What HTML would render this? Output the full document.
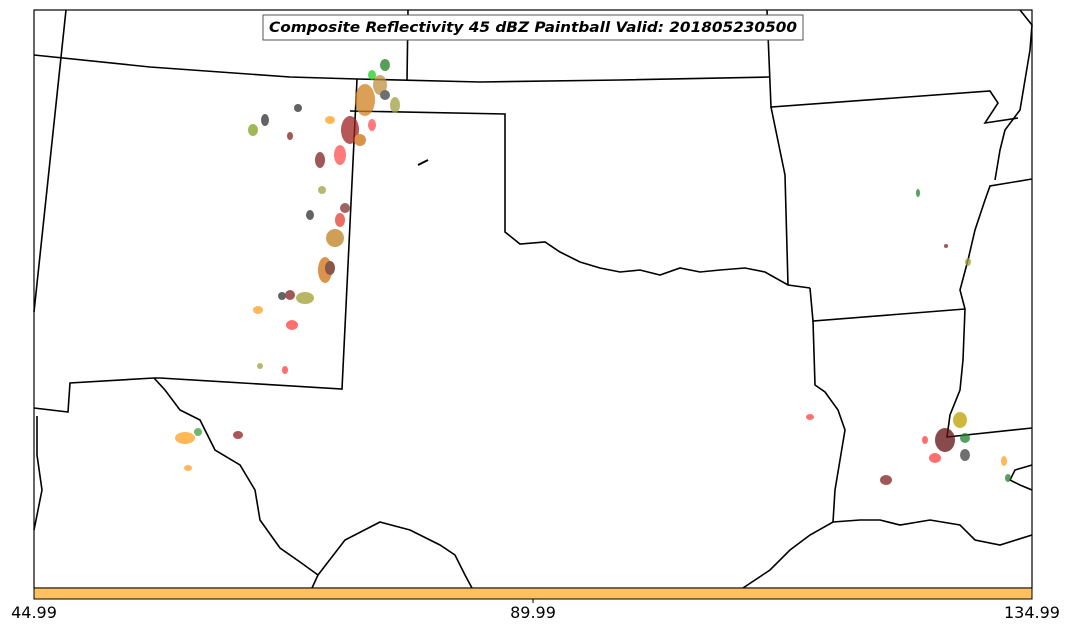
<!DOCTYPE html>
<html><head><meta charset="utf-8"><style>
html,body{margin:0;padding:0;background:#fff;width:1070px;height:633px;overflow:hidden;font-family:"DejaVu Sans",sans-serif}
</style></head><body>
<svg width="1070" height="633" style="position:absolute;left:0;top:0">
<g fill="none" stroke="#000" stroke-width="1.6">
<path d="M66,10 L34,312"/>
<path d="M34,55 L150,67 L290,77 L357,79 L480,82 L620,80 L770,77"/>
<path d="M408,10 L407,81"/>
<path d="M767,10 L771,107 L990,91 L998,103 L985,123 L1018,118"/>
<path d="M357,79 L342,389 L160,378 L154,378"/>
<path d="M350,111 L505,114 L505,232 L520,244 L545,242 L560,252 L580,262 L600,268 L620,272 L640,270 L660,275 L680,268 L700,272 L720,270 L745,268 L765,272 L788,285 L810,288"/>
<path d="M771,107 L785,175 L788,285"/>
<path d="M810,288 L813,321 L965,309"/>
<path d="M813,321 L815,385 L825,392 L838,410 L845,430 L840,460 L835,490 L833,522"/>
<path d="M1032,179 L990,186 L985,200 L975,230 L968,260 L960,290 L965,309 L963,360 L960,390 L950,415 L947,437 L1032,428"/>
<path d="M1020,10 L1032,25 L1030,50 L1025,80 L1020,110 L1005,130 L1000,150 L995,180"/>
<path d="M154,378 L165,390 L180,410 L200,420 L215,450 L240,465 L255,490 L260,520 L280,548 L300,562 L318,575 L312,588"/>
<path d="M318,575 L345,540 L380,522 L410,530 L440,545 L455,555 L465,575 L472,588"/>
<path d="M743,588 L770,570 L790,550 L810,535 L833,522 L860,520 L880,520 L900,525 L930,520 L960,525 L975,540 L1000,545 L1032,535"/>
<path d="M34,408 L68,412 L70,383 L154,378"/>
<path d="M37,416 L37,455 L42,490 L34,530"/>
<path d="M1032,465 L1015,470 L1010,480 L1020,485 L1032,490"/>
<path d="M418,165 L428,160" stroke-width="2"/>
</g>
<g opacity="0.75">
<ellipse cx="365" cy="100" rx="10" ry="16" fill="#d08020"/>
<ellipse cx="350" cy="130" rx="9" ry="14" fill="#a02020"/>
<ellipse cx="340" cy="155" rx="6" ry="10" fill="#ff5050"/>
<ellipse cx="380" cy="85" rx="7" ry="10" fill="#c09040"/>
<ellipse cx="395" cy="105" rx="5" ry="8" fill="#a0a040"/>
<ellipse cx="385" cy="65" rx="5" ry="6" fill="#208020"/>
<ellipse cx="372" cy="75" rx="4" ry="5" fill="#20d020"/>
<ellipse cx="360" cy="140" rx="6" ry="6" fill="#d07010"/>
<ellipse cx="330" cy="120" rx="5" ry="4" fill="#ffa020"/>
<ellipse cx="372" cy="125" rx="4" ry="6" fill="#ff5050"/>
<ellipse cx="385" cy="95" rx="5" ry="5" fill="#404040"/>
<ellipse cx="335" cy="238" rx="9" ry="9" fill="#c08020"/>
<ellipse cx="340" cy="220" rx="5" ry="7" fill="#e04030"/>
<ellipse cx="345" cy="208" rx="5" ry="5" fill="#803030"/>
<ellipse cx="325" cy="270" rx="7" ry="13" fill="#d07010"/>
<ellipse cx="330" cy="268" rx="5" ry="7" fill="#602010"/>
<ellipse cx="305" cy="298" rx="9" ry="6" fill="#a0a030"/>
<ellipse cx="290" cy="295" rx="5" ry="5" fill="#802020"/>
<ellipse cx="282" cy="296" rx="4" ry="4" fill="#303030"/>
<ellipse cx="292" cy="325" rx="6" ry="5" fill="#ff4040"/>
<ellipse cx="320" cy="160" rx="5" ry="8" fill="#802020"/>
<ellipse cx="322" cy="190" rx="4" ry="4" fill="#a0a040"/>
<ellipse cx="310" cy="215" rx="4" ry="5" fill="#303030"/>
<ellipse cx="298" cy="108" rx="4" ry="4" fill="#303030"/>
<ellipse cx="290" cy="136" rx="3" ry="4" fill="#802020"/>
<ellipse cx="265" cy="120" rx="4" ry="6" fill="#303030"/>
<ellipse cx="253" cy="130" rx="5" ry="6" fill="#80a020"/>
<ellipse cx="258" cy="310" rx="5" ry="4" fill="#ffa020"/>
<ellipse cx="185" cy="438" rx="10" ry="6" fill="#ffa020"/>
<ellipse cx="198" cy="432" rx="4" ry="4" fill="#40a040"/>
<ellipse cx="238" cy="435" rx="5" ry="4" fill="#902020"/>
<ellipse cx="188" cy="468" rx="4" ry="3" fill="#ffa020"/>
<ellipse cx="945" cy="440" rx="10" ry="12" fill="#601010"/>
<ellipse cx="960" cy="420" rx="7" ry="8" fill="#c0a000"/>
<ellipse cx="965" cy="455" rx="5" ry="6" fill="#404040"/>
<ellipse cx="935" cy="458" rx="6" ry="5" fill="#ff4040"/>
<ellipse cx="965" cy="438" rx="5" ry="5" fill="#208030"/>
<ellipse cx="925" cy="440" rx="3" ry="4" fill="#ff4040"/>
<ellipse cx="886" cy="480" rx="6" ry="5" fill="#802020"/>
<ellipse cx="1004" cy="461" rx="3" ry="5" fill="#ffa020"/>
<ellipse cx="1008" cy="478" rx="3" ry="4" fill="#208030"/>
<ellipse cx="810" cy="417" rx="4" ry="3" fill="#ff4040"/>
<ellipse cx="918" cy="193" rx="2" ry="4" fill="#208030"/>
<ellipse cx="946" cy="246" rx="2" ry="2" fill="#802020"/>
<ellipse cx="968" cy="262" rx="3" ry="4" fill="#a0a040"/>
<ellipse cx="285" cy="370" rx="3" ry="4" fill="#ff4040"/>
<ellipse cx="260" cy="366" rx="3" ry="3" fill="#a0a040"/>
</g>
<rect x="34" y="10" width="998" height="578" fill="none" stroke="#000" stroke-width="1.2"/>
<rect x="34" y="588" width="998" height="11" fill="#ffc060" stroke="#000" stroke-width="1"/>
<line x1="533" y1="599" x2="533" y2="603" stroke="#000"/>
<rect x="263" y="15" width="540" height="25" fill="#fff" stroke="#555" stroke-width="1"/>
<text x="533" y="32" text-anchor="middle" font-family="DejaVu Sans" font-size="14" font-weight="bold" font-style="italic" textLength="528" lengthAdjust="spacingAndGlyphs">Composite Reflectivity 45 dBZ Paintball Valid: 201805230500</text>
<text x="34" y="618" text-anchor="middle" font-family="DejaVu Sans" font-size="16">44.99</text>
<text x="533" y="618" text-anchor="middle" font-family="DejaVu Sans" font-size="16">89.99</text>
<text x="1032" y="618" text-anchor="middle" font-family="DejaVu Sans" font-size="16">134.99</text>
</svg>
</body></html>
